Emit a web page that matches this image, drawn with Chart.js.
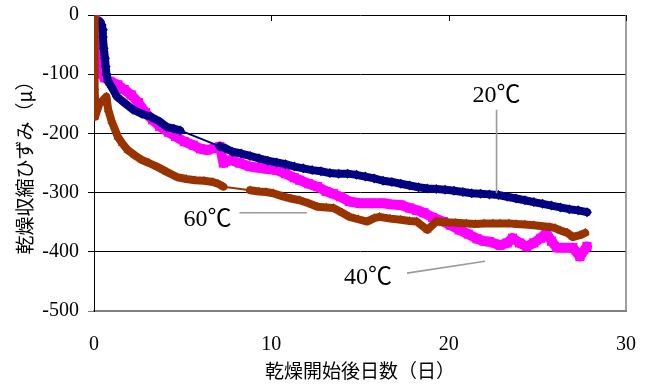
<!DOCTYPE html>
<html>
<head>
<meta charset="utf-8">
<script src="https://cdn.jsdelivr.net/npm/chart.js@4/dist/chart.umd.min.js"></script>
<style>
  html, body { margin: 0; padding: 0; background: #fff; }
  #wrap { width: 648px; height: 385px; }
</style>
</head>
<body>
<div id="wrap"><canvas id="chart" width="648" height="385"></canvas></div>
<script>
// 20℃ series (days, strain μ)
const days20 = [0.34, 0.43, 0.5, 0.5, 0.55, 0.62, 0.66, 0.7, 0.8, 1.0, 1.3, 1.7, 2.2, 2.7, 3.2, 3.7, 4.1, 4.5, 4.85,
  7.1, 7.4, 7.8, 8.3, 8.8, 9.3, 9.8, 10.3, 10.8, 11.3, 11.8, 12.3, 12.8, 13.3, 13.8, 14.3, 14.8, 15.3, 15.8,
  16.3, 16.8, 17.3, 17.8, 18.3, 18.8, 19.3, 19.8, 20.3, 20.8, 21.3, 21.8, 22.3, 22.8, 23.3, 23.8, 24.3, 24.8,
  25.3, 25.8, 26.3, 26.8, 27.3, 27.8];
const strain20 = [-11, -17, -25, -37, -56, -73, -87, -100, -112, -122, -138, -148, -160, -167, -172, -180, -189, -192, -195,
  -222, -225, -231, -234, -238, -242, -246, -249, -252, -256, -259, -262, -264, -267, -268, -268, -270, -273, -276,
  -280, -282, -285, -288, -291, -293, -294, -295, -297, -299, -301, -302, -303, -304, -307, -310, -313, -316,
  -319, -322, -325, -328, -330, -333];

// 40℃ series
const days40 = [0, 0.05, 0.1, 0.2, 0.25, 0.4, 0.6, 0.9, 1.35, 1.7, 2.1, 2.5, 2.9, 3.3, 3.7, 4.2, 4.6, 5.1, 5.6, 6.0,
  6.4, 6.8, 7.1, 7.3, 7.7, 8.2, 8.8, 9.3, 9.8, 10.3, 10.8, 11.3, 11.6, 12.1, 12.6, 13.1, 13.5, 13.9, 14.4, 15.0,
  15.6, 16.3, 16.8, 17.3, 17.8, 18.2, 18.6, 19.1, 19.7, 20.1, 20.6, 21.1, 21.6, 22.0, 22.3, 22.9, 23.3, 23.6,
  24.0, 24.4, 24.8, 25.2, 25.5, 25.8, 26.1, 26.6, 27.0, 27.4, 27.8];
const strain40 = [-3, -20, -35, -56, -89, -100, -106, -112, -118, -126, -135, -148, -165, -177, -188, -198, -205, -214, -220, -226,
  -228, -225, -222, -250, -245, -250, -256, -258, -260, -262, -268, -275, -279, -285, -290, -298, -302, -307, -315, -318,
  -318, -318, -320, -321, -326, -330, -334, -342, -349, -355, -363, -370, -378, -382, -383, -389, -385, -377,
  -385, -391, -385, -377, -368, -382, -393, -393, -393, -408, -391];

// 60℃ series
const days60 = [0, 0.02, 0.03, 0.04, 0.05, 0.06, 0.06, 0.3, 0.5, 0.7, 0.8, 1.0, 1.35, 1.6, 1.9, 2.3, 2.7, 3.1, 3.6, 4.1,
  4.7, 5.2, 5.7, 6.2, 6.7, 7.0, 7.3, 8.8, 9.3, 9.7, 10.1, 10.6, 11.1, 11.6, 12.1, 12.6, 13.1, 13.5, 14.0, 14.4,
  14.9, 15.4, 15.8, 16.1, 16.7, 17.3, 17.8, 18.2, 18.8, 19.3, 19.8, 20.4, 21.0, 21.5, 22.0, 22.5, 22.9, 23.4,
  23.8, 24.3, 24.8, 25.7, 26.0, 26.3, 26.7, 27.0, 27.4, 27.7, 28.0];
const strain60 = [-5, -39, -73, -89, -123, -144, -172, -150, -144, -138, -160, -180, -206, -217, -228, -237, -245, -250, -257, -265,
  -274, -277, -279, -280, -282, -285, -290, -296, -298, -299, -301, -306, -310, -313, -318, -324, -325, -326, -334, -341,
  -345, -349, -343, -341, -344, -346, -348, -349, -363, -349, -350, -351, -352, -353, -352, -352, -352, -352,
  -353, -354, -355, -358, -360, -364, -368, -375, -372, -368];

const xTicks = [0, 10, 20, 30];
const yTicks = [0, -100, -200, -300, -400, -500];

// labels with leader lines, in data units
const callouts = [
  { text: '20℃', at: [22.7, -137], line: [[22.7, -160], [22.7, -301]] },
  { text: '60℃', at: [6.4, -345], line: [[8.2, -334], [12.0, -334]] },
  { text: '40℃', at: [15.45, -443], line: [[17.65, -436], [22.05, -416]] }
];

const numFont = '"Liberation Serif", "Times New Roman", serif';
const jpFont = '"Noto Sans CJK JP", sans-serif';

function series(label, xs, ys, color, style, radius, thick, order) {
  return {
    label: label,
    data: xs.map((x, i) => ({ x: x, y: ys[i] })),
    showLine: true,
    borderColor: color,
    backgroundColor: color,
    borderWidth: thick,
    borderJoinStyle: 'round',
    borderCapStyle: 'round',
    pointStyle: style,
    pointRadius: radius,
    pointHoverRadius: radius,
    pointBorderWidth: 0,
    order: order,
    segment: {
      borderWidth: c => (c.p1.parsed.x - c.p0.parsed.x > 1.2 ? 2 : thick)
    }
  };
}

const extras = {
  id: 'extras',
  afterDraw(chart) {
    const { ctx, chartArea, scales: { x, y } } = chart;
    ctx.save();
    // right border
    ctx.strokeStyle = '#808080';
    ctx.lineWidth = 1.5;
    ctx.beginPath();
    ctx.moveTo(chartArea.right, chartArea.top);
    ctx.lineTo(chartArea.right, chartArea.bottom);
    ctx.stroke();
    // x axis ticks at the zero line
    ctx.strokeStyle = '#000';
    ctx.lineWidth = 1;
    xTicks.slice(1).forEach(v => {
      const px = Math.round(x.getPixelForValue(v)) + 0.5;
      ctx.beginPath();
      ctx.moveTo(px, y.getPixelForValue(0));
      ctx.lineTo(px, y.getPixelForValue(0) + 6);
      ctx.stroke();
    });
    // callouts
    callouts.forEach(c => {
      ctx.strokeStyle = '#9a9a9a';
      ctx.lineWidth = 1.6;
      ctx.beginPath();
      ctx.moveTo(x.getPixelForValue(c.line[0][0]), y.getPixelForValue(c.line[0][1]));
      ctx.lineTo(x.getPixelForValue(c.line[1][0]), y.getPixelForValue(c.line[1][1]));
      ctx.stroke();
      ctx.fillStyle = '#000';
      ctx.font = '24px ' + numFont + ', ' + jpFont;
      ctx.textAlign = 'center';
      ctx.textBaseline = 'middle';
      ctx.fillText(c.text, x.getPixelForValue(c.at[0]), y.getPixelForValue(c.at[1]));
    });
    ctx.restore();
  }
};

new Chart(document.getElementById('chart'), {
  type: 'scatter',
  data: {
    datasets: [
      series('20℃', days20, strain20, '#000080', 'rectRot', 5, 8, 2),
      series('40℃', days40, strain40, '#ff00ff', 'rect', 6.5, 10, 3),
      series('60℃', days60, strain60, '#993300', 'triangle', 5, 8, 1)
    ]
  },
  options: {
    responsive: false,
    animation: false,
    layout: { padding: { left: 0, right: 22, top: 15, bottom: 0 } },
    plugins: { legend: { display: false }, tooltip: { enabled: false } },
    scales: {
      x: {
        type: 'linear',
        min: 0,
        max: 30,
        afterBuildTicks: s => { s.ticks = xTicks.map(v => ({ value: v })); },
        afterFit: s => { s.height = 74; s.paddingLeft = 0; s.paddingRight = 0; },
        ticks: { color: '#000', font: { family: numFont, size: 20 }, padding: 22, maxRotation: 0 },
        grid: { drawOnChartArea: false, drawTicks: false },
        border: { color: '#808080', width: 2 },
        title: {
          display: true,
          text: '乾燥開始後日数（日）',
          color: '#000',
          font: { family: jpFont, size: 19 },
          padding: { top: 0, bottom: 3 }
        }
      },
      y: {
        min: -500,
        max: 0,
        afterBuildTicks: s => { s.ticks = yTicks.map(v => ({ value: v })); },
        afterFit: s => { s.width = 94; s.paddingTop = 0; s.paddingBottom = 0; },
        ticks: { color: '#000', font: { family: numFont, size: 20 }, padding: 9 },
        grid: {
          color: c => (c.tick && c.tick.value === -500 ? '#808080' : '#000'),
          lineWidth: 1,
          tickLength: 6
        },
        border: { color: '#000', width: 1 },
        title: {
          display: true,
          text: '乾燥収縮ひずみ（μ）',
          color: '#000',
          font: { family: jpFont, size: 19 },
          padding: { top: 13, bottom: 0 }
        }
      }
    }
  },
  plugins: [extras]
});
</script>
</body>
</html>
